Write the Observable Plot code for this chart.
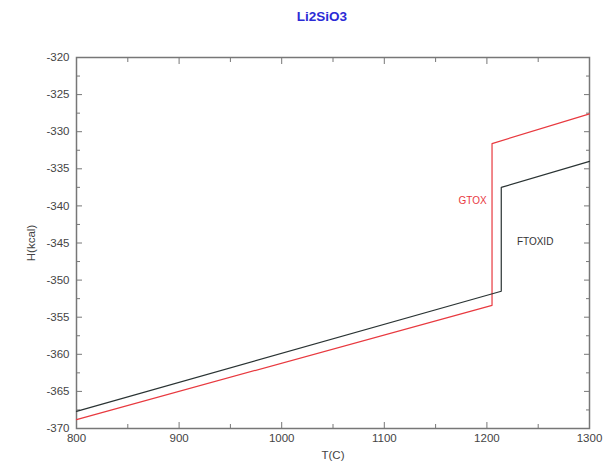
<!DOCTYPE html>
<html>
<head>
<meta charset="utf-8">
<script src="https://cdn.jsdelivr.net/npm/d3@7"></script>
<script src="https://cdn.jsdelivr.net/npm/@observablehq/plot@0.6"></script>
<style>
  html, body { margin: 0; padding: 0; background: #fff; }
  #title { height: 35px; padding-top: 9px; line-height: 16px; width: 606px; box-sizing: border-box; padding-left: 38px;
           text-align: center; font: bold 13.5px "Liberation Sans", Arial, sans-serif; color: #2b2bd6; }
</style>
</head>
<body>
<div id="title">Li2SiO3</div>
<div id="chart"></div>
<script>
// Enthalpy of Li2SiO3 from two thermodynamic databases
const ftoxidT = [800, 1214, 1214, 1300];
const ftoxidH = [-367.7, -351.5, -337.5, -334.0];
const gtoxT = [800, 1205, 1205, 1300];
const gtoxH = [-368.8, -353.4, -331.6, -327.6];

const seriesLabels = [
  {name: "GTOX", T: 1186, H: -339.3, color: "#e8393f"},
  {name: "FTOXID", T: 1247, H: -344.9, color: "#333"}
];

const xMajor = [800, 900, 1000, 1100, 1200, 1300];
const xMinor = [850, 950, 1050, 1150, 1250];
const yMajor = [-370, -365, -360, -355, -350, -345, -340, -335, -330, -325, -320];
const yMinor = [-367.5, -362.5, -357.5, -352.5, -347.5, -342.5, -337.5, -332.5, -327.5, -322.5];

const ftoxid = ftoxidT.map((T, i) => ({T, H: ftoxidH[i]}));
const gtox = gtoxT.map((T, i) => ({T, H: gtoxH[i]}));

const axisColor = "#777";
const font = "'Liberation Sans', Arial, sans-serif";

const chart = Plot.plot({
  width: 606,
  height: 432,
  marginTop: 22,
  marginBottom: 39,
  marginLeft: 76,
  marginRight: 17,
  style: {fontFamily: font, fontSize: "11.5px", color: "#444", background: "#fff"},
  x: {domain: [800, 1300]},
  y: {domain: [-370, -320]},
  marks: [
    Plot.frame({stroke: axisColor, strokeWidth: 1.5}),
    // inward major and minor ticks on all four sides
    Plot.axisX({anchor: "bottom", ticks: xMajor, tickSize: -6, text: null, label: null, stroke: axisColor}),
    Plot.axisX({anchor: "top", ticks: xMajor, tickSize: -6, text: null, label: null, stroke: axisColor}),
    Plot.axisX({anchor: "bottom", ticks: xMinor, tickSize: -4, text: null, label: null, stroke: axisColor}),
    Plot.axisX({anchor: "top", ticks: xMinor, tickSize: -4, text: null, label: null, stroke: axisColor}),
    Plot.axisY({anchor: "left", ticks: yMajor, tickSize: -6, text: null, label: null, stroke: axisColor}),
    Plot.axisY({anchor: "right", ticks: yMajor, tickSize: -6, text: null, label: null, stroke: axisColor}),
    Plot.axisY({anchor: "left", ticks: yMinor, tickSize: -4, text: null, label: null, stroke: axisColor}),
    Plot.axisY({anchor: "right", ticks: yMinor, tickSize: -4, text: null, label: null, stroke: axisColor}),
    // tick labels and axis titles
    Plot.axisX({anchor: "bottom", ticks: xMajor, tickSize: 0, tickPadding: 5, tickFormat: d => String(d),
      label: "T(C)", labelAnchor: "center", labelArrow: "none", labelOffset: 30, fill: "#444"}),
    Plot.axisY({anchor: "left", ticks: yMajor, tickSize: 0, tickPadding: 7, tickFormat: d => String(d),
      label: "H(kcal)", labelAnchor: "center", labelArrow: "none", labelOffset: 50, fill: "#444"}),
    Plot.line(gtox, {x: "T", y: "H", stroke: "#e8393f", strokeWidth: 1.2}),
    Plot.line(ftoxid, {x: "T", y: "H", stroke: "#2a3333", strokeWidth: 1.2}),
    Plot.text(seriesLabels, {x: "T", y: "H", text: "name", fill: "color", fontSize: 10})
  ]
});

document.getElementById("chart").appendChild(chart);
</script>
</body>
</html>
